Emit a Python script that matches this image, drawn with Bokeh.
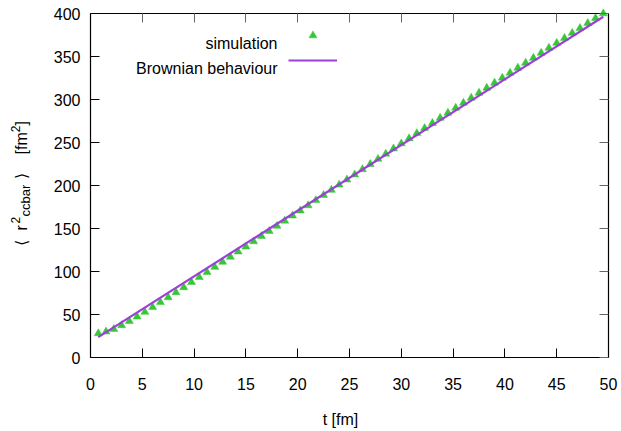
import math
from bokeh.plotting import figure
from bokeh.models import (Range1d, LinearAxis, Legend, LegendItem, Label,
                          FixedTicker, ColumnDataSource)
from bokeh.embed import file_html
from bokeh.resources import INLINE

# ---------------- data ----------------
t_sim = [0.75, 1.5, 2.25, 3.0, 3.75, 4.5, 5.25, 6.0, 6.75, 7.5, 8.25, 9.0,
         9.75, 10.5, 11.25, 12.0, 12.75, 13.5, 14.25, 15.0, 15.75, 16.5,
         17.25, 18.0, 18.75, 19.5, 20.25, 21.0, 21.75, 22.5, 23.25, 24.0,
         24.75, 25.5, 26.25, 27.0, 27.75, 28.5, 29.25, 30.0, 30.75, 31.5,
         32.25, 33.0, 33.75, 34.5, 35.25, 36.0, 36.75, 37.5, 38.25, 39.0,
         39.75, 40.5, 41.25, 42.0, 42.75, 43.5, 44.25, 45.0, 45.75, 46.5,
         47.25, 48.0, 48.75, 49.5]
r2_sim = [28.0, 30.0, 33.0, 37.4, 42.2, 47.4, 52.9, 58.4, 64.2, 69.9, 75.7,
          81.6, 87.5, 93.3, 99.2, 105.2, 111.1, 116.9, 123.0, 128.9, 134.9,
          141.0, 146.9, 152.9, 158.9, 164.9, 170.8, 176.8, 182.8, 188.8,
          194.8, 200.8, 206.8, 212.7, 218.8, 224.8, 230.8, 236.8, 242.9,
          248.8, 254.7, 260.7, 266.6, 272.5, 278.5, 284.4, 290.2, 296.0,
          301.9, 307.7, 313.5, 319.4, 325.2, 331.0, 336.8, 342.6, 348.3,
          354.1, 359.9, 365.7, 371.4, 377.3, 383.0, 388.7, 394.6, 400.0]
t_fit = [0.75, 49.5]
r2_fit = [23.7, 396.2]

x_ticks = [0, 5, 10, 15, 20, 25, 30, 35, 40, 45, 50]
y_ticks = [0, 50, 100, 150, 200, 250, 300, 350, 400]
legend_labels = ["simulation", "Brownian behaviour"]
x_title = "t [fm]"

GREEN = "#36c736"
PURPLE = "#9b40d6"
FONT = "Liberation Sans"

# ---------------- geometry (pixels) ----------------
W, H = 621, 431
FL, FR, FT, FB = 90, 608, 13, 357          # visible plot box
sx = (FR - FL) / 50.0
sy = (FB - FT) / 400.0

p = figure(width=W, height=H,
           x_range=Range1d(-FL / sx, 50 + (W - FR) / sx),
           y_range=Range1d(-(H - FB) / sy, 400 + FT / sy),
           output_backend="svg", toolbar_location=None,
           min_border=0, min_border_left=0, min_border_right=0,
           min_border_top=0, min_border_bottom=0)
p.title.visible = False
p.xgrid.visible = False
p.ygrid.visible = False
p.outline_line_color = None
p.background_fill_color = "white"
p.border_fill_color = "white"

def style_axis(ax, ticks, bounds, loc, main=True):
    ax.ticker = FixedTicker(ticks=ticks)
    ax.bounds = bounds
    ax.fixed_location = loc
    ax.major_tick_in = 9
    ax.major_tick_out = 0
    ax.minor_tick_line_color = None
    ax.axis_line_color = "black"
    ax.axis_line_width = 1.2
    ax.major_tick_line_color = "black" if main else "#666666"
    ax.major_tick_line_width = 1
    if main:
        ax.major_label_text_font = FONT
        ax.major_label_text_font_size = "16px"
        ax.major_label_text_color = "black"
    else:
        ax.major_label_text_color = None
        ax.major_label_text_alpha = 0

style_axis(p.xaxis[0], x_ticks, (0, 50), 0)
style_axis(p.yaxis[0], y_ticks, (0, 400), 0)
p.xaxis[0].major_label_standoff = 20
p.yaxis[0].major_label_standoff = 10

top = LinearAxis()
right = LinearAxis()
style_axis(top, x_ticks, (0, 50), 400, main=False)
style_axis(right, y_ticks, (0, 400), 50, main=False)
p.add_layout(top, "above")
p.add_layout(right, "right")

src_sim = ColumnDataSource(dict(t=t_sim, r2=r2_sim))
src_fit = ColumnDataSource(dict(t=t_fit, r2=r2_fit))
sim_r = p.scatter("t", "r2", source=src_sim, marker="triangle", size=8,
                  fill_color=GREEN, line_color=GREEN, line_width=0.5)
fit_r = p.line("t", "r2", source=src_fit, line_color=PURPLE, line_width=2.2)

# legend samples (gnuplot style: text on the left, sample on the right)
leg = Legend(items=[LegendItem(label=" ", renderers=[sim_r]),
                    LegendItem(label=" ", renderers=[fit_r])],
             location=(288, H - 70), glyph_width=49, glyph_height=20,
             label_height=20, spacing=5, padding=0, margin=0,
             background_fill_alpha=0, border_line_alpha=0,
             label_text_font_size="10px", label_standoff=0, label_width=1)
p.add_layout(leg)

def put(txt, px, py, size="16px", align="left", angle=0.0):
    p.add_layout(Label(x=0, y=0, x_offset=px - FL, y_offset=FB - py, text=txt,
                       angle=angle, text_align=align,
                       text_baseline="alphabetic", text_font=FONT,
                       text_font_size=size, text_color="black"))

for txt, base in zip(legend_labels, [42.7, 67.7]):
    put(txt, 277, base, align="right")

# x axis title
put(x_title, 340, 419, align="center")

# y axis title pieces: (text, baseline_x, start_y, size)
y_pieces = [("\u27e8", 20.5, 245, "16px"),
            ("r", 20.5, 230, "16px"),
            ("2", 14.5, 223, "12px"),
            ("ccbar", 25.0, 216, "13px"),
            ("\u27e9", 20.5, 178, "16px"),
            ("[fm", 20.5, 154, "16px"),
            ("2", 14.5, 131.8, "12px"),
            ("]", 20.5, 125, "16px")]
for txt, bx, sy_, fs in y_pieces:
    put(txt, bx, sy_, size=fs, angle=math.pi / 2)

open("out.html", "w").write(file_html(p, INLINE))
